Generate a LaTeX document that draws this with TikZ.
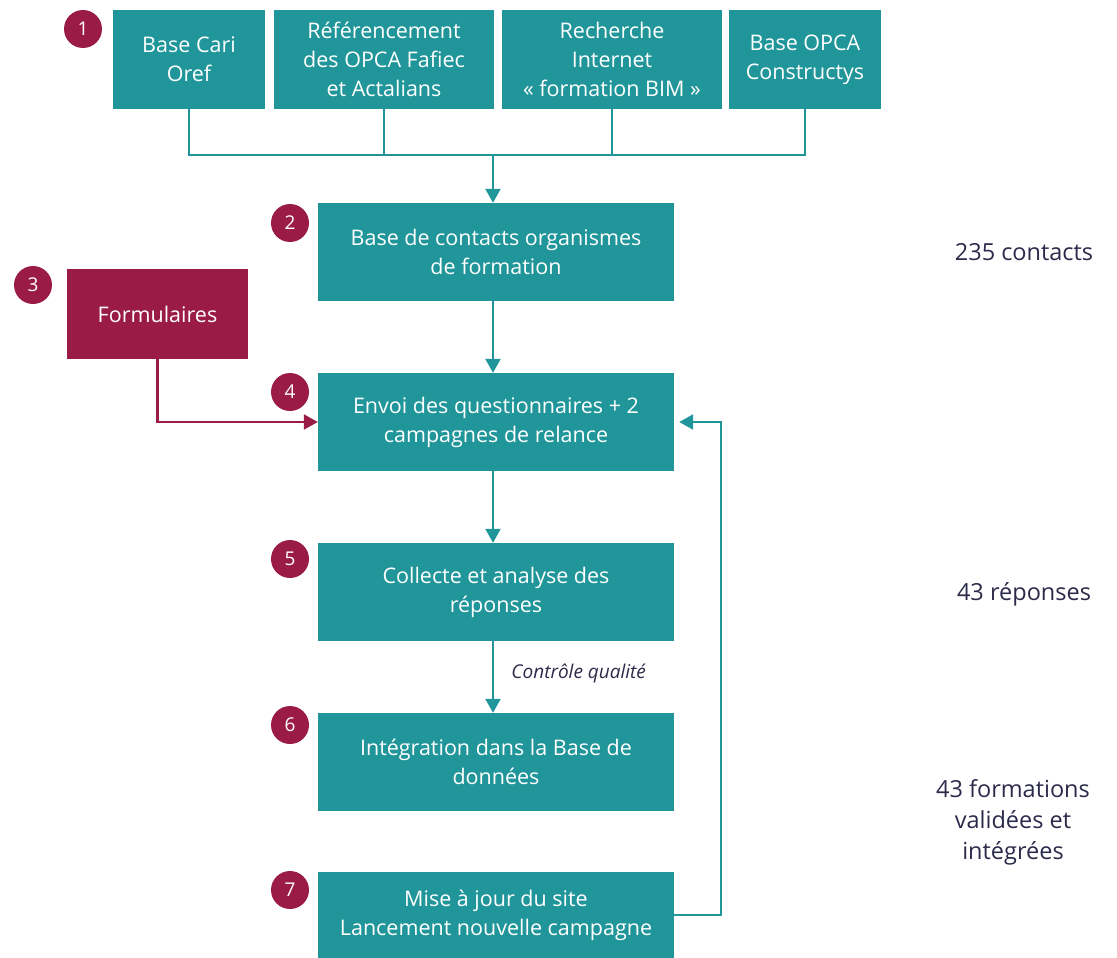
\documentclass[tikz,border=0pt]{standalone}
\usepackage{fontspec}
\setmainfont{Open Sans}
\usetikzlibrary{arrows.meta}
\definecolor{tealc}{RGB}{33,150,154}
\definecolor{crim}{RGB}{155,27,71}
\definecolor{navy}{RGB}{43,42,74}
\begin{document}
\begin{tikzpicture}[x=1pt,y=-1pt,
  box/.style={fill=tealc, text=white, align=center, inner sep=0pt, font=\fontsize{21.5}{29}\selectfont},
  redbox/.style={box, fill=crim},
  num/.style={circle, fill=crim, text=white, minimum size=38pt, inner sep=0pt, font=\fontsize{19}{20}\selectfont},
  conn/.style={draw=tealc, line width=2.2pt},
  arr/.style={conn, -{Triangle[length=14pt,width=15pt]}},
  rarr/.style={draw=crim, line width=2.2pt, -{Triangle[length=14pt,width=15pt]}},
  stat/.style={text=navy, align=center, font=\fontsize{23.5}{31}\selectfont}]
\useasboundingbox (0,0) rectangle (1117,958);

% top sources
\node[box, minimum width=152pt, minimum height=99pt] (sa) at (189,59.5) {Base Cari\\Oref};
\node[box, minimum width=220pt, minimum height=99pt] (sb) at (384,59.5) {Référencement\\des OPCA Fafiec\\et Actalians};
\node[box, minimum width=220pt, minimum height=99pt] (sc) at (612,59.5) {Recherche\\Internet\\« formation BIM »};
\node[box, minimum width=152pt, minimum height=99pt] (sd) at (805,59.5) {Base OPCA\\Constructys};

% main column
\node[box, minimum width=356pt, minimum height=98pt] (b2) at (496,252) {Base de contacts organismes\\de formation};
\node[redbox, minimum width=181pt, minimum height=90pt] (b3) at (157.5,314) {Formulaires};
\node[box, minimum width=356pt, minimum height=98pt] (b4) at (496,422) {Envoi des questionnaires + 2\\campagnes de relance};
\node[box, minimum width=356pt, minimum height=98pt] (b5) at (496,592) {Collecte et analyse des\\réponses};
\node[box, minimum width=356pt, minimum height=98pt] (b6) at (496,762) {Intégration dans la Base de\\données};
\node[box, minimum width=356pt, minimum height=86pt] (b7) at (496,915) {Mise à jour du site\\Lancement nouvelle campagne};

% numbers
\node[num] (n1) at (83,29) {1};
\node[num] (n2) at (290,223) {2};
\node[num] (n3) at (33,285) {3};
\node[num] (n4) at (290,392) {4};
\node[num] (n5) at (290,559) {5};
\node[num] (n6) at (290,725) {6};
\node[num] (n7) at (290,890) {7};

% merge of sources
\coordinate (jl) at (189,155);
\coordinate (jr) at (805,155);
\coordinate (jm) at (493,155);
\draw[conn] (sa.south) -- (jl) -- (jr) -- (sd.south);
\draw[conn] (sb.south) -- (sb.south |- jl);
\draw[conn] (sc.south) -- (sc.south |- jl);
\draw[arr] (jm) -- (jm |- b2.north);

% column arrows
\draw[arr] (b2.south -| jm) -- (b4.north -| jm);
\draw[arr] (b4.south -| jm) -- (b5.north -| jm);
\draw[arr] (b5.south -| jm) -- node[right=14pt, pos=0.45, text=navy, font=\fontsize{19}{20}\selectfont\itshape] (cq) {Contrôle qualité} (b6.north -| jm);

% formulaires
\draw[rarr] (b3.south) |- (b4.west);

% feedback loop
\coordinate (fb) at (721,915);
\draw[arr] (b7.east) -- (fb) |- ([xshift=5pt]b4.east);

% statistics
\node[stat] (s1) at (1024,252) {235 contacts};
\node[stat] (s2) at (1024,594) {43 réponses};
\node[stat] (s3) at (1013,822) {43 formations\\validées et\\intégrées};
\end{tikzpicture}
\end{document}
